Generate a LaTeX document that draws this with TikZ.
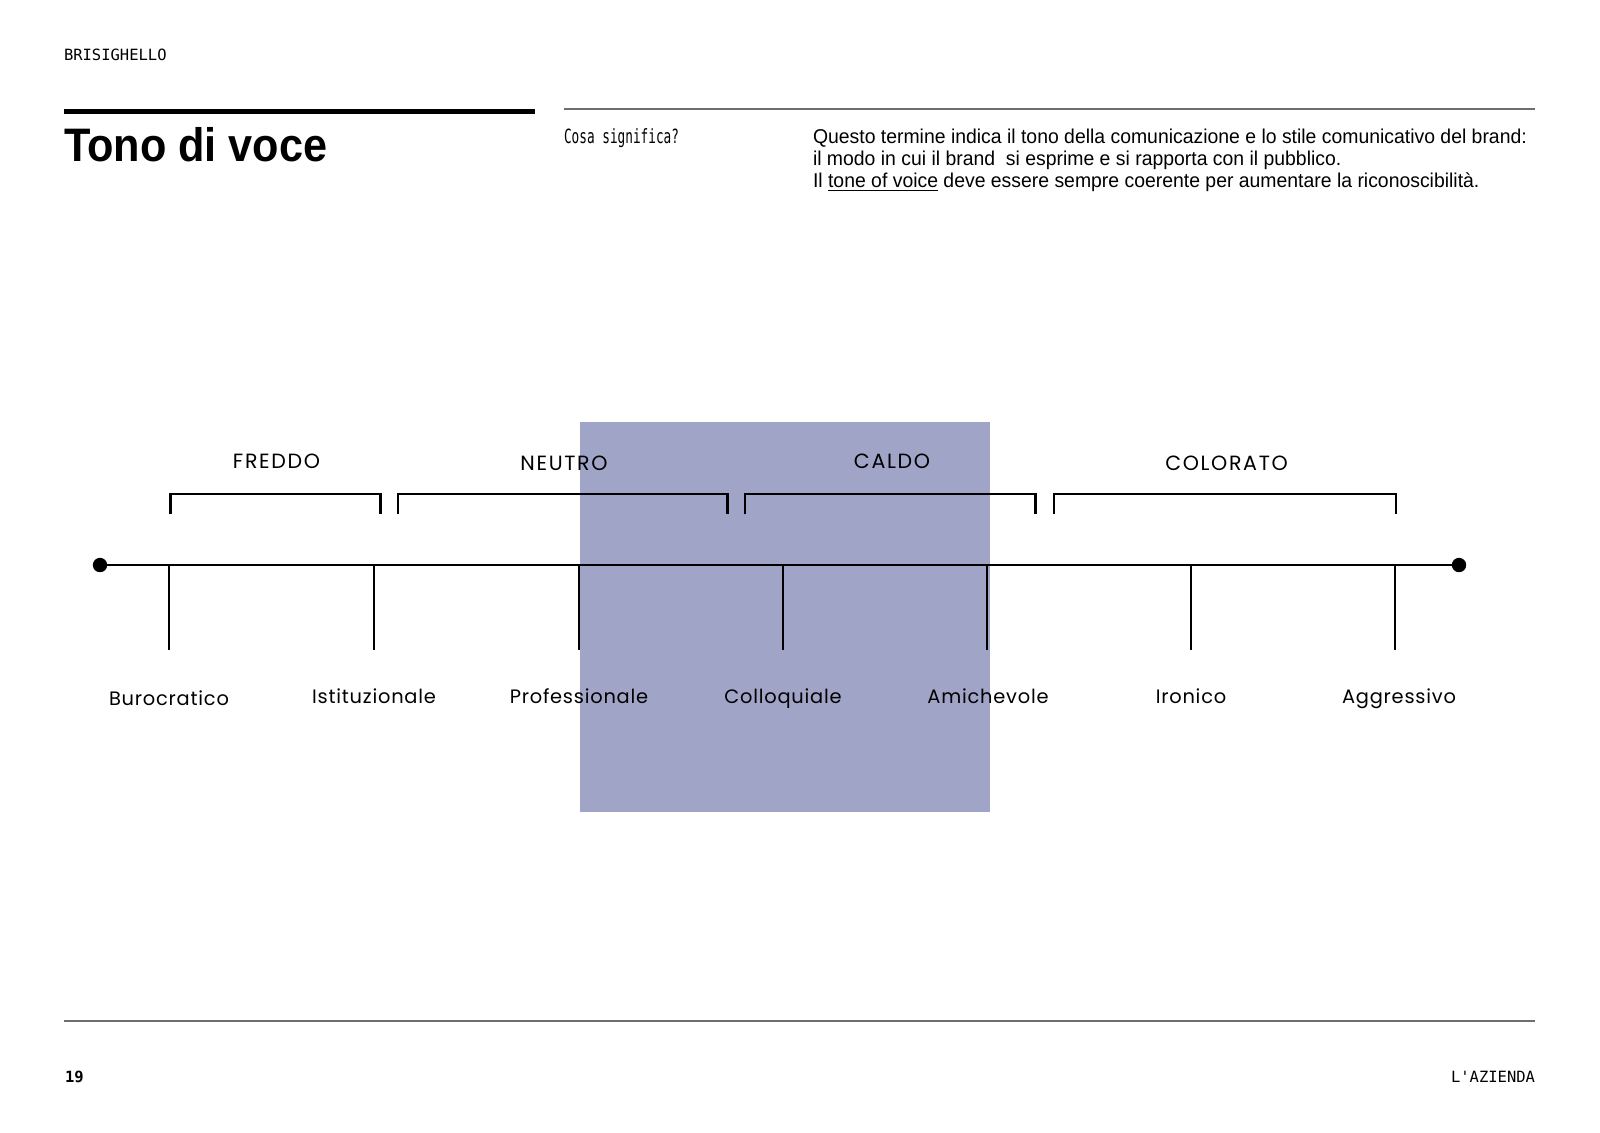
\documentclass[tikz,border=0pt]{standalone}
\usepackage{fontspec}
\setmainfont{Liberation Sans}
\newfontfamily\titlefont[FakeStretch=0.92]{Liberation Sans}
\newfontfamily\bodyfont[FakeStretch=0.97]{Liberation Sans}
\newfontfamily\monofont{DejaVu Sans Mono}
\newfontfamily\condfont[FakeStretch=0.65]{DejaVu Sans Mono}
\newfontfamily\geofont[LetterSpace=4]{Poppins}
\newfontfamily\geogroupfont[LetterSpace=8]{Poppins}
\definecolor{band}{RGB}{160,164,198}
\definecolor{rulegray}{RGB}{110,110,110}
\begin{document}
\begin{tikzpicture}[x=0.5pt,y=-0.5pt,
  txt/.style={inner sep=0pt, outer sep=0pt},
  mono/.style={txt, font=\monofont\fontsize{7.75}{9}\selectfont},
  body/.style={txt, anchor=base west, font=\bodyfont\fontsize{10}{12}\selectfont},
  ticklabel/.style={txt, anchor=base, font=\geofont\fontsize{9.7}{12}\selectfont},
  grouplabel/.style={txt, anchor=base, font=\geogroupfont\fontsize{10.3}{12}\selectfont},
  dot/.style={circle, fill=black, inner sep=0pt, minimum size=7.2pt},
  axisline/.style={line width=1pt},
  tickline/.style={line width=1pt},
  bracketline/.style={line width=1.3pt},
  thinrule/.style={rulegray, line width=0.75pt}]
\useasboundingbox (0,0) rectangle (1600,1132);
\fill[white] (0,0) rectangle (1600,1132);

% header
\node[mono, anchor=base west] (brand) at (64,60) {BRISIGHELLO};
\fill[black] (64,108.5) rectangle (535,113.5);
\node[txt, anchor=base west, font=\titlefont\bfseries\fontsize{23.5}{28}\selectfont] (title) at (64,161) {Tono di voce};
\draw[thinrule] (564,109) -- (1535,109);
\node[txt, anchor=base west, font=\condfont\fontsize{9.8}{12}\selectfont] (cosa) at (564,143) {Cosa significa?};
\node[body] (p1) at (813,143) {Questo termine indica il tono della comunicazione e lo stile comunicativo del brand:};
\node[body] (p2) at (813,165.4) {il modo in cui il brand\ \ si esprime e si rapporta con il pubblico.};
\node[body] (p3) at (813,187.8) {Il \underline{tone of voice} deve essere sempre coerente per aumentare la riconoscibilità.};

% highlight band
\fill[band] (579.6,422.4) rectangle (989.8,812.2);

% group brackets
\draw[bracketline] (170.4,514.3) |- (380.6,493.9) -- (380.6,514.3);
\draw[bracketline] (398,514.3) |- (727.6,493.9) -- (727.6,514.3);
\draw[bracketline] (744.9,514.3) |- (1035.7,493.9) -- (1035.7,514.3);
\draw[bracketline] (1054,514.3) |- (1396,493.9) -- (1396,514.3);
\node[grouplabel] (freddo) at (276.5,468.5) {FREDDO};
\node[grouplabel] (neutro) at (564,470.5) {NEUTRO};
\node[grouplabel] (caldo) at (892,468.5) {CALDO};
\node[grouplabel] (colorato) at (1226.5,470.5) {COLORATO};

% axis
\node[dot] (L) at (100,565) {};
\node[dot] (R) at (1459,565) {};
\draw[axisline] (L.center) -- (R.center);

% ticks
\foreach \i/\x in {1/169.4,2/373.5,3/578.6,4/782.7,5/986.7,6/1190.8,7/1394.9}{
  \coordinate (t\i) at (\x,565);
  \coordinate (b\i) at (\x,650);
  \draw[tickline] (t\i) -- (b\i);
}
\node[ticklabel] (l1) at (169,705) {Burocratico};
\node[ticklabel] (l2) at (374,703) {Istituzionale};
\node[ticklabel] (l3) at (579,703) {Professionale};
\node[ticklabel] (l4) at (783,703) {Colloquiale};
\node[ticklabel] (l5) at (988,703) {Amichevole};
\node[ticklabel] (l6) at (1191,703) {Ironico};
\node[ticklabel] (l7) at (1399,703) {Aggressivo};

% footer
\draw[thinrule] (64,1021) -- (1535,1021);
\node[txt, anchor=base west, font=\monofont\bfseries\fontsize{7.75}{9}\selectfont] (page) at (65,1082) {19};
\node[mono, anchor=base east] (section) at (1535,1082) {L'AZIENDA};
\end{tikzpicture}
\end{document}
